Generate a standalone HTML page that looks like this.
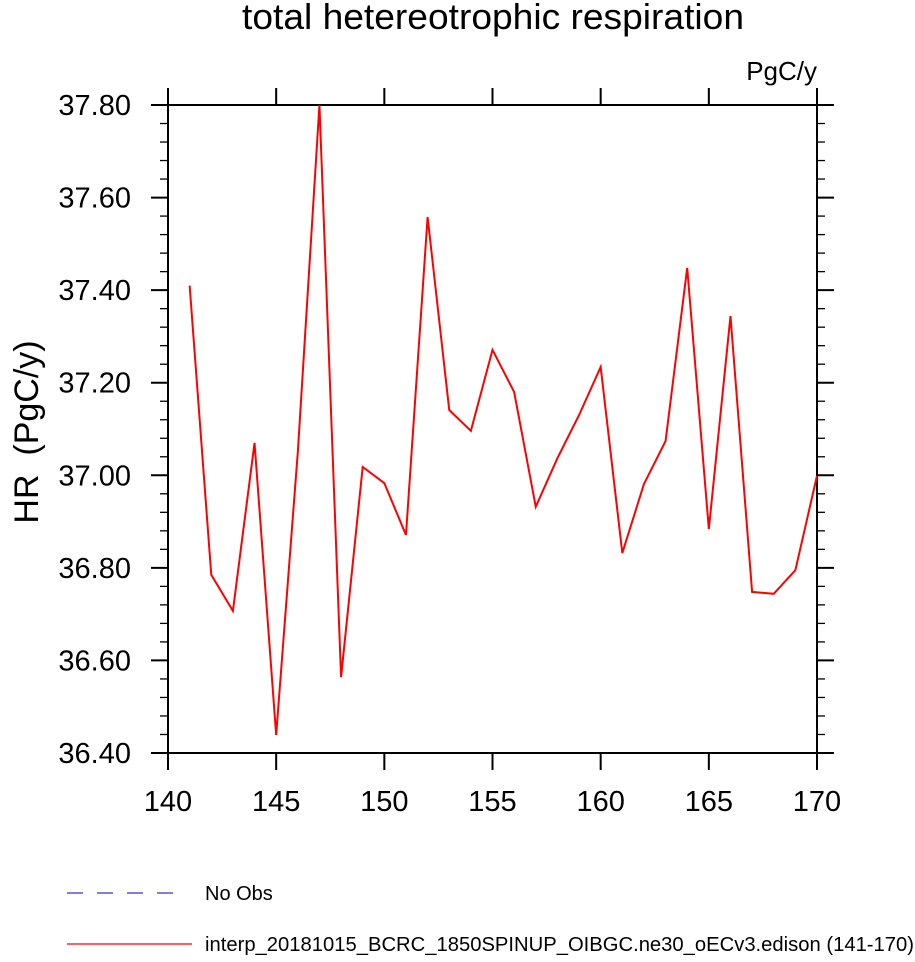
<!DOCTYPE html>
<html><head><meta charset="utf-8"><style>
body{margin:0;background:#fff;}
svg text{font-family:"Liberation Sans",Arial,sans-serif;}
</style></head><body>
<svg width="915" height="957" xmlns="http://www.w3.org/2000/svg">
<text x="493" y="29" font-size="36" text-anchor="middle" textLength="502" lengthAdjust="spacingAndGlyphs">total hetereotrophic respiration</text>
<text x="817" y="80" font-size="26" text-anchor="end">PgC/y</text>
<text transform="translate(38,432) rotate(-90)" font-size="34" text-anchor="middle" xml:space="preserve">HR  (PgC/y)</text>
<g>
<line x1="67" y1="893" x2="180" y2="893" stroke="#3333cc" stroke-width="1.2" stroke-dasharray="16,14"/>
<text x="205" y="900" font-size="20">No Obs</text>
<line x1="67" y1="944" x2="192" y2="944" stroke="red" stroke-width="1.2"/>
<text x="205" y="951" font-size="20" textLength="709" lengthAdjust="spacingAndGlyphs">interp_20181015_BCRC_1850SPINUP_OIBGC.ne30_oECv3.edison (141-170)</text>
</g>
</svg>
<script>
const years=[141,142,143,144,145,146,147,148,149,150,151,152,153,154,155,156,157,158,159,160,161,162,163,164,165,166,167,168,169,170];
const hr=[37.41,36.785,36.707,37.07,36.439,37.05,37.80,36.564,37.018,36.983,36.871,37.558,37.141,37.096,37.271,37.180,36.932,37.037,37.13,37.234,36.832,36.981,37.074,37.448,36.884,37.344,36.748,36.744,36.795,36.999];
const xTicks=[140,145,150,155,160,165,170];
const yTicks=["36.40","36.60","36.80","37.00","37.20","37.40","37.60","37.80"];
const L=168,R=817,T=105,B=753;
const xs=v=>L+(v-140)/30*(R-L);
const ys=v=>B-(v-36.4)/1.4*(B-T);
const svg=document.querySelector('svg');
const NS='http://www.w3.org/2000/svg';
function mk(t,a){const e=document.createElementNS(NS,t);for(const k in a)e.setAttribute(k,a[k]);svg.appendChild(e);return e;}
const fr=mk('rect',{x:L,y:T,width:R-L,height:B-T,fill:'none',stroke:'#000','stroke-width':2});


for(const t of xTicks){const x=xs(t);
 mk('line',{x1:x,y1:B,x2:x,y2:B+17,stroke:'#000','stroke-width':2});
 mk('line',{x1:x,y1:T,x2:x,y2:T-17,stroke:'#000','stroke-width':2});
 const tx=mk('text',{x:x,y:B+58,'font-size':29,'text-anchor':'middle'});tx.textContent=t;
 
 }
for(let i=0;i<=35;i++){const v=36.4+i*0.04,y=ys(v),maj=i%5===0,len=maj?17:8;
 mk('line',{x1:L,y1:y,x2:L-len,y2:y,stroke:'#000','stroke-width':maj?2:1.3});
 mk('line',{x1:R,y1:y,x2:R+len,y2:y,stroke:'#000','stroke-width':maj?2:1.3});}
for(const t of yTicks){const y=ys(parseFloat(t));
 const tx=mk('text',{x:131,y:y+10,'font-size':29,'text-anchor':'end'});tx.textContent=t;
 
 }
const pl=mk('polyline',{points:years.map((y,i)=>xs(y)+','+ys(hr[i])).join(' '),fill:'none',stroke:'red','stroke-width':2});


</script>
</body></html>
